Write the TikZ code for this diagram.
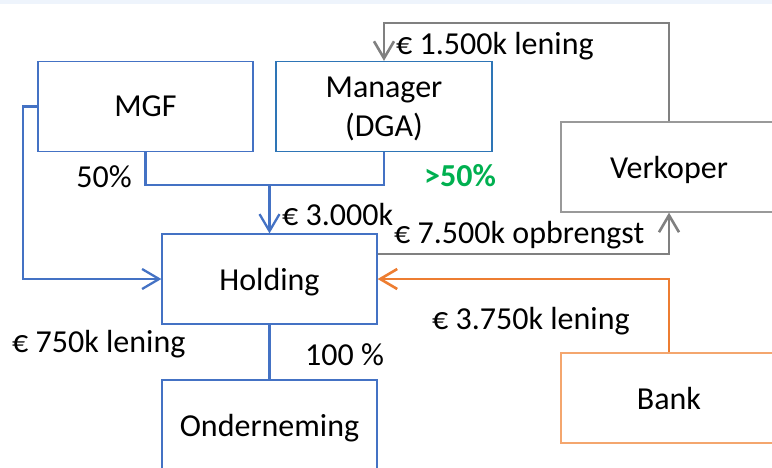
\documentclass[tikz,border=0pt]{standalone}
\usepackage{fontspec}
\setmainfont{Carlito}
\usetikzlibrary{arrows.meta,calc}
\definecolor{bandc}{HTML}{EEF4FC}
\definecolor{blu}{HTML}{4472C4}
\definecolor{mgrc}{HTML}{2E75B6}
\definecolor{gry}{HTML}{808080}
\definecolor{gryb}{HTML}{999999}
\definecolor{org}{HTML}{ED7D31}
\definecolor{orgb}{HTML}{F4A66E}
\definecolor{grn}{HTML}{00B050}
\tikzset{
  box/.style={draw, line width=1.3pt, minimum width=215pt, minimum height=90pt, inner sep=0pt, align=center, text depth=0pt, font=\fontsize{32}{39}\selectfont},
  lbl/.style={inner sep=0pt, font=\fontsize{32}{38}\selectfont},
  arr/.style={-{Straight Barb[length=17pt,width=20pt]}},
  bluel/.style={draw=blu, line width=2.3pt},
  grayl/.style={draw=gry, line width=2.6pt},
  orgl/.style={draw=org, line width=2.6pt},
}
\begin{document}
\begin{tikzpicture}[x=1pt,y=-1pt]
\useasboundingbox (0,0) rectangle (772,467);
\fill[bandc] (0,0) rectangle (772,4);
% boxes
\node[box, draw=blu] (mgf) at (145.5,106.5) {MGF};
\node[box, draw=mgrc, minimum width=216pt] (mgr) at (384,106.5) {Manager\\(DGA)};
\node[box, draw=gryb, minimum width=216pt] (verk) at (669,167) {Verkoper};
\node[box, draw=blu] (hold) at (269.5,279) {Holding};
\node[box, draw=blu] (ond) at (269.5,425) {Onderneming};
\node[box, draw=orgb, minimum width=216pt] (bank) at (669,398) {Bank};
% coordinates
\coordinate (jn) at (269.5,185);
\coordinate (ml) at (23,106.5);
\coordinate (gt) at (384,23);
\coordinate (ho) at (377.5,254);
\coordinate (vb) at (669,254);
% blue connectors
\draw[bluel] (mgf.south) -- ++(0,33) -| (mgr.south);
\draw[bluel, arr] (jn) -- (hold.north);
\draw[bluel, arr] (mgf.west) -- (ml) |- (hold.west);
\draw[bluel] (hold.south) -- (ond.north);
% gray connectors
\draw[grayl, arr] (verk.north) |- (gt) -- (mgr.north);
\draw[grayl, arr] (ho) -- (vb) -- (verk.south);
% orange
\draw[orgl, arr] (bank.north) |- (hold.east);
% labels
\node[lbl, anchor=west] (l1) at (396,46.5) {€ 1.500k lening};
\node[lbl] (l2) at (104,176.5) {50\%};
\node[lbl, text=grn, font=\fontsize{32}{38}\selectfont\bfseries] (l3) at (460,176) {>50\%};
\node[lbl, anchor=west] (l4) at (282,214.5) {€ 3.000k};
\node[lbl, anchor=west] (l5) at (394,235.5) {€ 7.500k opbrengst};
\node[lbl, anchor=west] (l6) at (12,344.5) {€ 750k lening};
\node[lbl, anchor=west] (l7) at (305,354.5) {100 \%};
\node[lbl, anchor=west] (l8) at (432,321.5) {€ 3.750k lening};
\end{tikzpicture}
\end{document}
